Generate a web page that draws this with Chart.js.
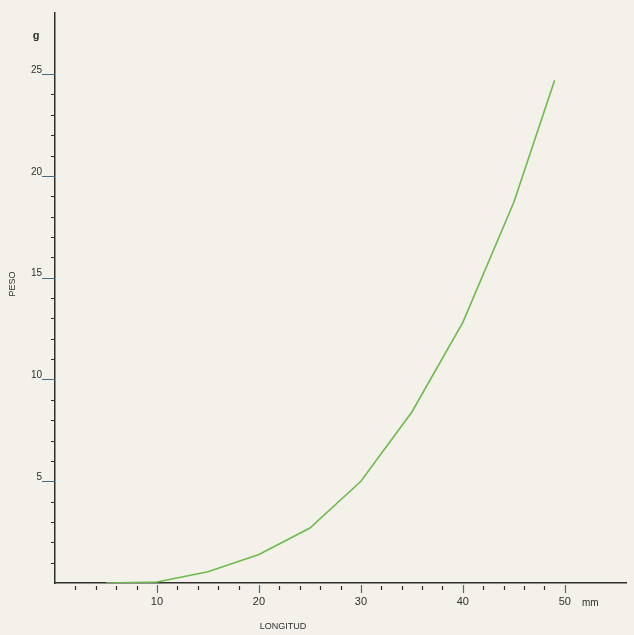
<!DOCTYPE html>
<html>
<head>
<meta charset="utf-8">
<script src="https://cdn.jsdelivr.net/npm/chart.js@4.4.0/dist/chart.umd.min.js"></script>
<style>
    html, body { margin: 0; padding: 0; background: #f3f1ea; }
    #wrap { width: 634px; height: 635px; }
</style>
</head>
<body>
<div id="wrap"><canvas id="myChart" width="634" height="635"></canvas></div>
<script>
// longitud (mm) vs peso (g)
const longitud = [5, 10, 15, 20, 25, 30, 35, 40, 45, 49];
const peso = [0, 0.05, 0.55, 1.4, 2.7, 5.0, 8.4, 12.8, 18.7, 24.7];

const xTickLabels = [10, 20, 30, 40, 50];
const yTickLabels = [5, 10, 15, 20, 25];
const xMinorTicks = [2, 4, 6, 8, 12, 14, 16, 18, 22, 24, 26, 28, 32, 34, 36, 38, 42, 44, 46, 48];
const yMinorTicks = [1, 2, 3, 4, 6, 7, 8, 9, 11, 12, 13, 14, 16, 17, 18, 19, 21, 22, 23, 24];

const axisColor = '#2e2e2e';
const majorColor = '#3f6f8c';
const fontFamily = '"Liberation Sans", Arial, sans-serif';

const tickMarks = {
    id: 'tickMarks',
    afterDraw(chart) {
        const ctx = chart.ctx;
        const x = chart.scales.x;
        const y = chart.scales.y;
        const left = chart.chartArea.left;
        const bottom = chart.chartArea.bottom;
        ctx.save();
        ctx.lineWidth = 1.2;

        // minor ticks
        ctx.strokeStyle = axisColor;
        ctx.beginPath();
        xMinorTicks.forEach(v => {
            const px = Math.round(x.getPixelForValue(v)) + 0.5;
            ctx.moveTo(px, bottom + 3);
            ctx.lineTo(px, bottom + 7);
        });
        yMinorTicks.forEach(v => {
            const py = Math.round(y.getPixelForValue(v)) + 0.5;
            ctx.moveTo(left - 4, py);
            ctx.lineTo(left, py);
        });
        ctx.stroke();

        // major ticks
        ctx.strokeStyle = majorColor;
        ctx.beginPath();
        xTickLabels.forEach(v => {
            const px = Math.round(x.getPixelForValue(v)) + 0.5;
            ctx.moveTo(px, bottom + 2);
            ctx.lineTo(px, bottom + 10);
        });
        yTickLabels.forEach(v => {
            const py = Math.round(y.getPixelForValue(v)) + 0.5;
            ctx.moveTo(left - 13, py);
            ctx.lineTo(left, py);
        });
        ctx.stroke();

        // units and titles
        ctx.fillStyle = axisColor;
        ctx.font = 'bold 11px ' + fontFamily;
        ctx.textAlign = 'center';
        ctx.textBaseline = 'middle';
        ctx.fillText('g', 36, 36);
        ctx.font = '10px ' + fontFamily;
        ctx.fillText('mm', x.getPixelForValue(52.5), bottom + 20);
        ctx.font = '9px ' + fontFamily;
        ctx.fillText('LONGITUD', 283, 627);
        ctx.translate(13, 284);
        ctx.rotate(-Math.PI / 2);
        ctx.fillText('PESO', 0, 0);
        ctx.restore();
    }
};

new Chart(document.getElementById('myChart'), {
    type: 'line',
    data: {
        datasets: [{
            data: longitud.map((v, i) => ({ x: v, y: peso[i] })),
            borderColor: '#6dbb4c',
            borderWidth: 1.6,
            pointRadius: 0,
            tension: 0,
            fill: false
        }]
    },
    options: {
        responsive: false,
        animation: false,
        layout: { padding: { top: 13, right: 8, left: 0, bottom: 0 } },
        scales: {
            x: {
                type: 'linear',
                min: 0,
                max: 56,
                afterFit: s => { s.height = 52; s.paddingLeft = 0; s.paddingRight = 0; },
                border: { display: true, color: axisColor, width: 1.5 },
                grid: { display: false, drawTicks: false },
                ticks: {
                    stepSize: 10,
                    padding: 12,
                    color: axisColor,
                    font: { family: fontFamily, size: 11 },
                    maxRotation: 0,
                    callback: v => xTickLabels.includes(v) ? v : ''
                }
            },
            y: {
                type: 'linear',
                min: 0,
                max: 28,
                afterFit: s => { s.width = 55; s.paddingTop = 0; s.paddingBottom = 0; },
                border: { display: true, color: axisColor, width: 1.5 },
                grid: { display: false, drawTicks: false },
                ticks: {
                    stepSize: 5,
                    padding: 13,
                    labelOffset: -4,
                    color: axisColor,
                    font: { family: fontFamily, size: 10 },
                    callback: v => yTickLabels.includes(v) ? v : ''
                }
            }
        },
        plugins: {
            legend: { display: false },
            tooltip: { enabled: false }
        }
    },
    plugins: [tickMarks]
});
</script>
</body>
</html>
